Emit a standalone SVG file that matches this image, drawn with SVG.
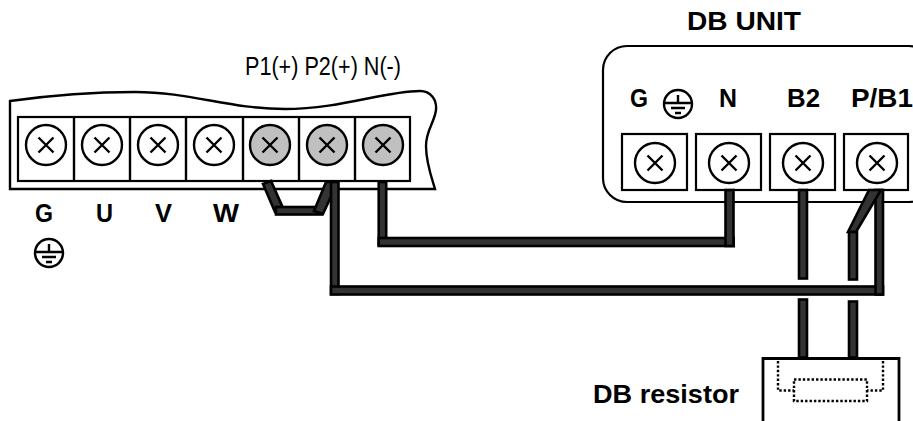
<svg xmlns="http://www.w3.org/2000/svg" width="913" height="421" viewBox="0 0 913 421">
<style>
.box{fill:#fff;stroke:#000;stroke-width:2.2}
.scr{fill:#fff;stroke:#000;stroke-width:2.4}
.scg{fill:#c0c0c0;stroke:#000;stroke-width:2.4}
.x{fill:none;stroke:#000;stroke-width:2.4}
.w{fill:#333;stroke:#000;stroke-width:2.6}
.b{font-family:"Liberation Sans",sans-serif;font-weight:700;font-size:25px;fill:#000}
.n{font-family:"Liberation Sans",sans-serif;font-size:25px;fill:#000}
.g{fill:none;stroke:#000;stroke-width:2.4}
</style>
<defs>
<g id="mark"><path class="x" d="M-7.500-7.500L7.500 7.500M-7.500 7.500L7.500-7.500"/></g>
<g id="gnd"><circle class="g" r="14"/><path class="g" d="M0-9V-1M-13-1H13M-7 4H7M-3 9H3"/></g>
</defs>
<g id="inverter">
<path d="M10 101C60 94 105 92 135 92C190 92 230 109 285 109C340 109 385 91 420 91C431 91 437 100 436 110C434 124 426 130 426 146C426 162 431 176 435 189H10Z" fill="#fff" stroke="#000" stroke-width="2.4"/>
<rect class="box" x="18" y="117" width="392" height="64"/>
<path class="x" d="M74 117V181M130 117V181M186 117V181M243 117V181M299 117V181M355 117V181"/>
</g>
<g id="t-g"><circle class="scr" cx="46" cy="145" r="20"/><use href="#mark" x="46" y="145"/></g>
<g id="t-u"><circle class="scr" cx="102" cy="145" r="20"/><use href="#mark" x="102" y="145"/></g>
<g id="t-v"><circle class="scr" cx="158" cy="145" r="20"/><use href="#mark" x="158" y="145"/></g>
<g id="t-w"><circle class="scr" cx="214" cy="145" r="20"/><use href="#mark" x="214" y="145"/></g>
<g id="t-p1"><circle class="scg" cx="270" cy="145" r="20"/><use href="#mark" x="270" y="145"/></g>
<g id="t-p2"><circle class="scg" cx="327" cy="145" r="20"/><use href="#mark" x="327" y="145"/></g>
<g id="t-n"><circle class="scg" cx="383" cy="145" r="20"/><use href="#mark" x="383" y="145"/></g>
<g id="db-unit">
<rect class="box" x="603" y="46" width="330" height="156" rx="24"/>
<rect class="box" x="622" y="134" width="65" height="56"/>
<rect class="box" x="696" y="134" width="65" height="56"/>
<rect class="box" x="770" y="134" width="65" height="56"/>
<rect class="box" x="844" y="134" width="64" height="56"/>
<circle class="scr" cx="655" cy="163" r="20"/><use href="#mark" x="655" y="163"/>
<circle class="scr" cx="729" cy="163" r="20"/><use href="#mark" x="729" y="163"/>
<circle class="scr" cx="803" cy="163" r="20"/><use href="#mark" x="803" y="163"/>
<circle class="scr" cx="877" cy="163" r="20"/><use href="#mark" x="877" y="163"/>
<use href="#gnd" x="678" y="104"/>
</g>
<g id="db-resistor">
<path d="M763 421V358.500H899V421" fill="#fff" stroke="#000" stroke-width="2.8"/>
<path d="M778 361V390.500H794M883 361V390.500H867" fill="none" stroke="#000" stroke-width="2.4" stroke-dasharray="2.4 2"/>
<rect x="794" y="379.500" width="73" height="21.500" fill="none" stroke="#000" stroke-width="2.4" stroke-dasharray="2.4 2"/>
</g>
<g id="connectors">
<polygon class="w" points="263,184 271,181 283,208 275,212"/>
<rect class="w" x="276" y="207" width="46" height="7.500"/>
<polygon class="w" points="314,211 323,214 333,192 331,182 326,182"/>
<rect class="w" x="331" y="182" width="7.500" height="112"/>
<rect class="w" x="331" y="286.500" width="552" height="8"/>
<rect class="w" x="875.500" y="190" width="7.500" height="104.500"/>
<rect class="w" x="378.700" y="182" width="7.500" height="63"/>
<rect class="w" x="378.700" y="238" width="355" height="8"/>
<rect class="w" x="725.500" y="190" width="8" height="56"/>
<rect class="w" x="799" y="190" width="8" height="88.500"/>
<polygon class="w" points="869,190 881,190 856,232 848,232"/>
<rect class="w" x="849" y="232" width="8" height="47.500"/>
<rect class="w" x="799" y="299.500" width="8" height="58"/>
<rect class="w" x="849" y="301.500" width="8" height="56"/>
</g>
<g id="labels">
<text class="n" x="245" y="75" textLength="156" lengthAdjust="spacingAndGlyphs">P1(+) P2(+) N(-)</text>
<text class="b" x="687" y="30" textLength="114" lengthAdjust="spacingAndGlyphs">DB UNIT</text>
<text class="b" x="35" y="222" textLength="18" lengthAdjust="spacingAndGlyphs">G</text>
<text class="b" x="96" y="222" textLength="17" lengthAdjust="spacingAndGlyphs">U</text>
<text class="b" x="155" y="222" textLength="17" lengthAdjust="spacingAndGlyphs">V</text>
<text class="b" x="213" y="222" textLength="26" lengthAdjust="spacingAndGlyphs">W</text>
<use href="#gnd" x="49" y="253"/>
<text class="b" x="630" y="107" textLength="18" lengthAdjust="spacingAndGlyphs">G</text>
<text class="b" x="719" y="107" textLength="18" lengthAdjust="spacingAndGlyphs">N</text>
<text class="b" x="787" y="107" textLength="33" lengthAdjust="spacingAndGlyphs">B2</text>
<text class="b" x="851" y="107" textLength="62" lengthAdjust="spacingAndGlyphs">P/B1</text>
<text class="b" x="593" y="403" textLength="146" lengthAdjust="spacingAndGlyphs">DB resistor</text>
</g>
</svg>
